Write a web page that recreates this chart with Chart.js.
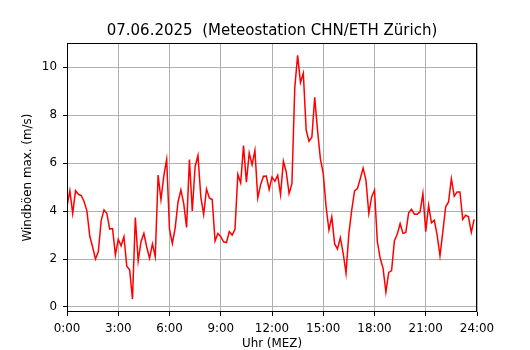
<!DOCTYPE html>
<html>
<head>
<meta charset="utf-8">
<script src="https://cdn.jsdelivr.net/npm/chart.js@4.4.1/dist/chart.umd.min.js"></script>
<style>
html,body{margin:0;padding:0;background:#fff;}
#wrap{width:530px;height:350px;position:relative;}
</style>
</head>
<body>
<div id="wrap"><canvas id="c" width="530" height="350"></canvas></div>
<script>
const titleText = '07.06.2025  (Meteostation CHN/ETH Zürich)';
const xLabel = 'Uhr (MEZ)';
const yLabel = 'Windböen max. (m/s)';
// 10-minute gust maxima, 00:00 .. 23:50
const gusts = [
  4.2, 4.85, 3.9, 4.85, 4.7, 4.65, 4.4, 4.0, 2.95, 2.5, 2.0, 2.3,
  3.6, 4.05, 3.9, 3.25, 3.27, 2.17, 2.82, 2.55, 2.93, 1.7, 1.55, 0.33,
  3.73, 1.92, 2.72, 3.07, 2.5, 2.03, 2.63, 2.1, 5.5, 4.48, 5.47, 6.15,
  3.24, 2.65, 3.3, 4.38, 4.88, 4.31, 3.32, 6.15, 4.0, 5.86, 6.32, 4.59,
  3.86, 4.92, 4.55, 4.48, 2.75, 3.07, 2.93, 2.72, 2.69, 3.14, 3.0, 3.24,
  5.53, 5.17, 6.73, 5.2, 6.42, 5.93, 6.53, 4.55, 5.1, 5.45, 5.46, 4.9,
  5.42, 5.24, 5.49, 4.69, 6.08, 5.63, 4.73, 5.14, 9.15, 10.5, 9.36, 9.75,
  7.38, 6.91, 7.08, 8.74, 7.36, 6.18, 5.56, 4.18, 3.21, 3.76, 2.63, 2.42,
  2.89, 2.24, 1.41, 3.07, 4.04, 4.84, 4.94, 5.35, 5.79, 5.28, 3.9, 4.59,
  4.87, 2.72, 2.03, 1.62, 0.62, 1.44, 1.52, 2.76, 3.04, 3.48, 3.07, 3.11,
  3.93, 4.07, 3.87, 3.87, 3.97, 4.73, 3.14, 4.24, 3.51, 3.62, 3.0, 2.13,
  3.14, 4.18, 4.38, 5.35, 4.62, 4.8, 4.8, 3.65, 3.83, 3.76, 3.11, 3.65
];
const stepMinutes = 10;
const xTickHours = [0, 3, 6, 9, 12, 15, 18, 21, 24];
const xTickLabels = ['0:00','3:00','6:00','9:00','12:00','15:00','18:00','21:00','24:00'];
const yTicks = [0, 2, 4, 6, 8, 10];
const xRange = [0, 24];
const yRange = [-0.21, 11.01];

const points = gusts.map((v, i) => ({x: i * stepMinutes / 60, y: v}));
const FONT = '"DejaVu Sans", "Liberation Sans", sans-serif';

const framePlugin = {
  id: 'frame',
  afterDraw(chart) {
    const {ctx, chartArea: a} = chart;
    ctx.save();
    ctx.strokeStyle = '#000';
    ctx.lineWidth = 1;
    ctx.strokeRect(Math.round(a.left) + 0.5, Math.round(a.top) + 0.5,
                   Math.round(a.right - a.left) - 1, Math.round(a.bottom - a.top) - 1);
    ctx.fillStyle = '#000';
    ctx.font = '15px ' + FONT;
    ctx.textAlign = 'center';
    ctx.textBaseline = 'alphabetic';
    ctx.fillText(titleText, (a.left + a.right) / 2, 34.5);
    ctx.restore();
  }
};

new Chart(document.getElementById('c'), {
  type: 'scatter',
  data: {
    datasets: [{
      data: points,
      showLine: true,
      borderColor: '#ff0000',
      backgroundColor: '#ff0000',
      borderWidth: 1.5,
      pointRadius: 0,
      tension: 0
    }]
  },
  options: {
    responsive: false,
    animation: false,
    devicePixelRatio: 1,
    layout: {padding: {top: 43, right: 53, left: 0, bottom: 0}},
    plugins: {legend: {display: false}, tooltip: {enabled: false}, title: {display: false}},
    scales: {
      x: {
        type: 'linear',
        min: xRange[0], max: xRange[1],
        afterFit(s) { s.height = 38; },
        afterBuildTicks(s) { s.ticks = xTickHours.map(v => ({value: v})); },
        ticks: {
          color: '#000', padding: 6, maxRotation: 0, autoSkip: false,
          font: {family: FONT, size: 11.9},
          callback: (v) => xTickLabels[xTickHours.indexOf(v)] ?? ''
        },
        grid: {color: '#b0b0b0', lineWidth: 1, tickColor: '#000', tickLength: 4, tickWidth: 1},
        border: {display: false},
        title: {display: true, text: xLabel, color: '#000', font: {family: FONT, size: 11.9, lineHeight: 1}, padding: {top: 0, bottom: 0}}
      },
      y: {
        type: 'linear',
        min: yRange[0], max: yRange[1],
        afterFit(s) { s.width = 67; },
        afterBuildTicks(s) { s.ticks = yTicks.map(v => ({value: v})); },
        ticks: {color: '#000', padding: 6, font: {family: FONT, size: 11.9}},
        grid: {color: '#b0b0b0', lineWidth: 1, tickColor: '#000', tickLength: 4, tickWidth: 1},
        border: {display: false},
        title: {display: true, text: yLabel, color: '#000', font: {family: FONT, size: 11.9, lineHeight: 1.2}, padding: {top: 21, bottom: 0}}
      }
    }
  },
  plugins: [framePlugin]
});
</script>
</body>
</html>
